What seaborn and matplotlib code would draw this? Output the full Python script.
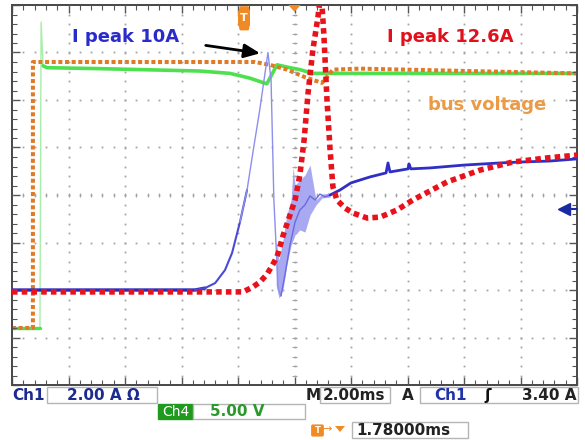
import numpy as np
import pandas as pd
import matplotlib
matplotlib.use("Agg")
import matplotlib.pyplot as plt
import seaborn as sns
from matplotlib.patches import Rectangle, FancyBboxPatch, Polygon
import matplotlib.transforms as mtransforms

# ---------------- data (time in ms, current in A, voltage in V) ----------------
meas_time = [0, 3.12, 6.48, 6.83, 7.19, 7.54, 7.79, 8.07, 8.32, 8.53, 8.78, 9.06,
             9.17, 9.27, 9.42, 9.52, 9.66, 9.84, 10.02, 10.19, 10.37, 10.55, 10.73,
             10.90, 11.08, 11.26, 11.61, 12.00, 12.67, 13.24, 13.31, 13.38, 14.02,
             14.05, 14.12, 14.80, 16.00, 17.27, 18.02, 19.04, 20.0]
meas_current = [0, 0, 0, 0.08, 0.29, 0.84, 1.56, 2.86, 4.21, 5.81, 7.66, 10.0,
                8.84, 3.79, 0.08, -0.25, 0.63, 1.89, 2.86, 3.37, 3.58, 3.96, 3.79,
                4.04, 3.92, 4.00, 4.21, 4.51, 4.76, 4.93, 5.35, 4.97, 5.10,
                5.31, 5.10, 5.14, 5.26, 5.35, 5.39, 5.43, 5.52]

noise_time = [9.35, 9.45, 9.59, 9.73, 9.88, 9.95, 10.02, 10.19, 10.37, 10.55, 10.76, 10.97, 11.26]
noise_low = [0.21, -0.34, 0.0, 1.05, 1.89, 2.10, 2.32, 2.53, 2.44, 3.16, 3.58, 3.87, 3.92]
noise_high = [2.11, 1.26, 2.11, 3.16, 3.79, 5.18, 4.42, 4.63, 4.84, 5.26, 3.79, 4.04, 4.08]

sim_time = [0, 8.18, 8.53, 8.78, 9.03, 9.20, 9.38, 9.59, 9.84, 10.02, 10.19, 10.34,
            10.48, 10.65, 10.83, 10.94, 11.04, 11.15, 11.26, 11.36, 11.50, 11.79,
            12.07, 12.57, 13.03, 13.63, 14.19, 15.40, 16.57, 17.73, 18.94, 20.0]
sim_current = [-0.08, -0.08, 0.13, 0.34, 0.67, 1.01, 1.39, 2.27, 3.16, 3.79, 4.84, 6.32,
               8.29, 10.11, 11.49, 12.6, 10.74, 8.00, 5.89, 4.34, 3.79, 3.45,
               3.24, 3.03, 3.07, 3.37, 3.79, 4.55, 5.05, 5.39, 5.56, 5.68]

bus_time = [0, 0.99, 1.03, 1.10, 1.24, 3.12, 6.65, 7.72, 8.42, 9.02, 9.38, 9.84,
            10.19, 10.65, 11.26, 20.0]
bus_voltage = [0, 0, 32.2, 27.6, 27.4, 27.3, 27.05, 26.8, 26.3, 25.7, 27.7, 27.4,
               27.2, 26.8, 26.8, 26.8]

busref_time = [0, 0.74, 0.74, 8.60, 9.13, 9.73, 10.37, 10.97, 11.36, 12.32, 20.0]
busref_voltage = [0, 0, 28.0, 28.0, 27.7, 27.2, 26.4, 25.8, 27.2, 27.3, 26.8]

trigger_level = 3.40
trigger_time = 10.0 - 1.78
peak_meas_label = "I peak 10A"
peak_sim_label = "I peak 12.6A"

# ---------------- figure ----------------
sns.set_theme(style="white")
plt.rcParams['font.family'] = ['DejaVu Sans']

W, H = 585, 440
fig = plt.figure(figsize=(W / 100, H / 100), dpi=100)
fig.patch.set_facecolor("white")
ax = fig.add_axes([12 / W, 55 / H, 565 / W, 380 / H])
axv = ax.twinx()
ax.set_xlim(0, 20)
ax.set_ylim(-4, 12)
axv.set_ylim(-6, 34)
ax.set_zorder(axv.get_zorder() + 1)
ax.patch.set_visible(False)
axv.patch.set_facecolor("white")

# graticule
gcol = "#a4a4a4"
xs_major = np.arange(0, 20.01, 2)
ys_major = np.arange(-4, 12.01, 2)
xs_minor = np.arange(0, 20.01, 0.4)
ys_minor = np.arange(-4, 12.01, 0.4)
for xv in xs_major[1:-1]:
    ax.plot(np.full_like(ys_minor, xv), ys_minor, ls="none", marker="s", ms=1.3,
            color=gcol, mew=0, zorder=1)
for yv in ys_major[1:-1]:
    ax.plot(xs_minor, np.full_like(xs_minor, yv), ls="none", marker="s", ms=1.3,
            color=gcol, mew=0, zorder=1)
# center crosshair ticks
ax.vlines(xs_minor, 4 - 0.1, 4 + 0.1, color=gcol, lw=0.8, zorder=1)
ax.hlines(ys_minor, 10 - 0.1, 10 + 0.1, color=gcol, lw=0.8, zorder=1)

ax.set_xticks(xs_major)
ax.set_xticks(xs_minor, minor=True)
ax.set_yticks(ys_major)
ax.set_yticks(ys_minor, minor=True)
ax.tick_params(which="both", direction="in", top=True, right=True, bottom=True, left=True,
               labelbottom=False, labelleft=False, color="#555555")
ax.tick_params(which="major", length=6, width=1)
ax.tick_params(which="minor", length=3.5, width=0.8)
axv.set_yticks([])
axv.tick_params(right=False, labelright=False)
for a in (ax, axv):
    for s in a.spines.values():
        s.set_color("#4a4a4a")
        s.set_linewidth(1.3)

# ---------------- voltage traces ----------------
dfb = pd.DataFrame({"t": bus_time, "v": bus_voltage})
green = "#4ee04e"
sns.lineplot(data=dfb.iloc[:4], x="t", y="v", ax=axv, estimator=None, sort=False,
             color="#a8eea8", lw=1.0, zorder=2)
sns.lineplot(data=dfb.iloc[:2], x="t", y="v", ax=axv, estimator=None, sort=False,
             color=green, lw=2.4, zorder=3)
sns.lineplot(data=dfb.iloc[3:], x="t", y="v", ax=axv, estimator=None, sort=False,
             color=green, lw=2.6, zorder=3)

dfr = pd.DataFrame({"t": busref_time, "v": busref_voltage})
sns.lineplot(data=dfr, x="t", y="v", ax=axv, estimator=None, sort=False,
             color="#e07a26", lw=2.9, linestyle=(0, (1, 0.65)), zorder=4)
axv.set_ylabel("")
axv.set_yticks([])

# ---------------- current traces ----------------
dfm = pd.DataFrame({"t": meas_time, "i": meas_current})
segs = [
    (dfm[dfm.t <= 6.83], "#2b2bc0", 2.4),
    (dfm[(dfm.t >= 6.48) & (dfm.t <= 8.32)], "#4a4ad6", 1.5),
    (dfm[(dfm.t >= 8.07) & (dfm.t <= 9.52)], "#8e8eec", 1.0),
    (dfm[(dfm.t >= 9.52) & (dfm.t <= 11.26)], "#6a6ae2", 1.0),
    (dfm[dfm.t >= 11.26], "#2f2fc8", 2.0),
]
ax.fill_between(noise_time, noise_low, noise_high, color="#a9a9f2", lw=0, zorder=4)
for d, c, lw in segs:
    sns.lineplot(data=d, x="t", y="i", ax=ax, estimator=None, sort=False,
                 color=c, lw=lw, zorder=5)

dfs = pd.DataFrame({"t": sim_time, "i": sim_current})
sns.lineplot(data=dfs, x="t", y="i", ax=ax, estimator=None, sort=False,
             color="#e8121c", lw=4.0, linestyle=(0, (1, 0.75)), zorder=6)
ax.set_xlim(0, 20)
ax.set_ylim(-4, 12)
ax.set_xlabel("")
ax.set_ylabel("")

# trigger level marker on right edge
ax.plot([19.55, 20], [trigger_level, trigger_level], color="#1a2aa0", lw=1.5, zorder=7, clip_on=False)
ax.plot([19.55], [trigger_level], marker="<", ms=8, color="#1a2aa0", zorder=7, clip_on=False)

# trigger time marker and center marker at top
btr = mtransforms.blended_transform_factory(ax.transData, ax.transAxes)
ax.add_patch(FancyBboxPatch((trigger_time - 0.17, 0.945), 0.34, 0.04,
                            boxstyle="round,pad=0.01,rounding_size=0.05",
                            transform=btr, fc="#f08a24", ec="#f08a24", zorder=8, clip_on=False))
ax.text(trigger_time, 0.965, "T", transform=btr, color="white", fontsize=8, fontweight="bold",
        ha="center", va="center", zorder=9)
ax.add_patch(Polygon([[10 - 0.22, 1.0], [10 + 0.22, 1.0], [10, 0.982]], closed=True,
                     transform=btr, fc="#f08a24", ec="none", zorder=8, clip_on=False))

# ---------------- annotations ----------------
def fx(x, y):
    return (x / W, 1 - y / H)

fig.text(*fx(126, 37), peak_meas_label, color="#2b2bcc", fontsize=13, fontweight="bold",
         ha="center", va="center")
fig.text(*fx(450, 37), peak_sim_label, color="#e0101c", fontsize=13, fontweight="bold",
         ha="center", va="center")
fig.text(*fx(487, 105), "bus voltage", color="#eb9a45", fontsize=13, fontweight="bold",
         ha="center", va="center")
i_pk = int(np.argmax(meas_current))
ax.annotate("", xy=(meas_time[i_pk] - 0.18, meas_current[i_pk] - 0.05),
            xytext=fx(203, 45), textcoords="figure fraction",
            arrowprops=dict(arrowstyle="-|>,head_length=0.8,head_width=0.35",
                            color="black", lw=2), zorder=10)

# ---------------- status bar ----------------
def box(x0, y0, x1, y1, fc="white", ec="#b5b5b5"):
    fig.add_artist(Rectangle((x0 / W, 1 - y1 / H), (x1 - x0) / W, (y1 - y0) / H,
                             transform=fig.transFigure, fc=fc, ec=ec, lw=1))

def txt(x, y, s, color="#222222", size=11, ha="left", weight="bold"):
    fig.text(*fx(x, y), s, color=color, fontsize=size, ha=ha, va="center", fontweight=weight)

navy = "#1c2b8f"
txt(12, 395, "Ch1", navy)
box(47, 387, 157, 403)
txt(67, 395, "2.00 A \u03a9", navy)
txt(306, 395, "M")
box(320, 387, 390, 403)
txt(323, 395, "2.00ms")
txt(402, 395, "A")
box(420, 387, 578, 403)
txt(434, 395, "Ch1", "#2233aa")
txt(484, 395, "\u0283", "#111111")
txt(577, 395, "3.40 A", ha="right")

box(158, 404, 193, 419, fc="#1f9a1f", ec="#1f9a1f")
txt(175.5, 411.5, "Ch4", "white", size=10, ha="center", weight="normal")
box(193, 404, 305, 419)
txt(210, 411.5, "5.00 V", "#2a9a2a")

fig.add_artist(FancyBboxPatch((313 / W, 1 - 435 / H), 9 / W, 9 / H,
                              boxstyle="round,pad=0.002", transform=fig.transFigure,
                              fc="#f08a24", ec="#f08a24"))
fig.text(*fx(317.5, 430.5), "T", color="white", fontsize=6, fontweight="bold", ha="center", va="center")
txt(322, 429.5, "\u2192", "#f08a24", size=8, weight="normal")
fig.add_artist(Polygon([[335 / W, 1 - 426 / H], [345 / W, 1 - 426 / H], [340 / W, 1 - 432 / H]],
                       closed=True, transform=fig.transFigure, fc="#f08a24", ec="none"))
box(352, 422, 468, 438)
txt(356, 430.5, "1.78000ms", size=11)

fig.savefig("out.png", dpi=100, facecolor="white")
